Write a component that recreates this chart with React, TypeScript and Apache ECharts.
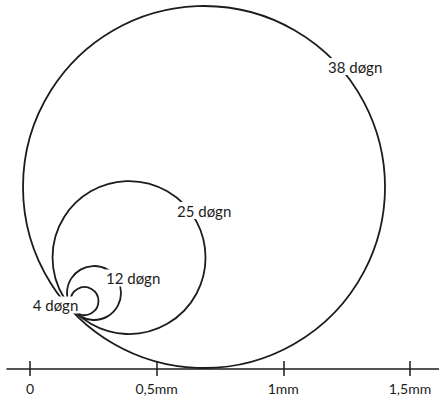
import React, { useEffect, useRef } from "react";
import * as echarts from "echarts";

// Circles (mm): day count, centre x, centre y (above baseline), radius
const days = [4, 12, 25, 38];
const centerX = [0.215, 0.2527, 0.391, 0.687];
const centerY = [0.268, 0.3, 0.44, 0.7185];
const radius = [0.0553, 0.1066, 0.302, 0.7146];

// Label anchors (mm)
const labelX = [0.1946, 0.2961, 0.5764, 1.1725];
const labelY = [0.2527, 0.3593, 0.6257, 1.194];
const labelAlign = ["right", "left", "left", "left"];

// Axis ticks
const tickValues = [0, 0.5, 1, 1.5];
const tickLabels = ["0", "0,5mm", "1mm", "1,5mm"];

const X_MIN = -0.0908;
const X_MAX = 1.6147;
const Y_MAX = 1.4568;

const INK = "#1c1c1c";
const FONT = "Lato, 'Noto Sans', sans-serif";

export default function App() {
  const ref = useRef<HTMLDivElement>(null);
  useEffect(() => {
    document.body.style.margin = "0";
    const chart = echarts.init(ref.current!, undefined, { renderer: "svg" });
    const circleData = days.map((d, i) => [centerX[i], centerY[i], radius[i], d]);
    const labelData = days.map((d, i) => [labelX[i], labelY[i], d, i]);
    chart.setOption({
      animation: false,
      backgroundColor: "#fff",
      grid: { left: 7, right: 0, top: 0, bottom: 29 },
      xAxis: [
        {
          type: "value",
          min: X_MIN,
          max: X_MAX,
          splitLine: { show: false },
          axisLine: { show: true, lineStyle: { color: INK, width: 1.5 } },
          axisTick: {
            show: true,
            inside: false,
            length: 7,
            customValues: tickValues,
            lineStyle: { color: INK, width: 1.5 },
          },
          axisLabel: {
            show: true,
            customValues: tickValues,
            margin: 12,
            color: INK,
            fontFamily: FONT,
            fontSize: 14,
            formatter: (v: number) => {
              const idx = tickValues.findIndex((t) => Math.abs(t - v) < 1e-9);
              return idx >= 0 ? tickLabels[idx] : "";
            },
          },
        },
        {
          type: "value",
          min: X_MIN,
          max: X_MAX,
          position: "bottom",
          splitLine: { show: false },
          axisLine: { show: false },
          axisTick: {
            show: true,
            inside: true,
            length: 8,
            customValues: tickValues,
            lineStyle: { color: INK, width: 1.5 },
          },
          axisLabel: { show: false },
        },
      ],
      yAxis: { type: "value", min: 0, max: Y_MAX, show: false },
      series: [
        {
          type: "custom",
          xAxisIndex: 0,
          yAxisIndex: 0,
          z: 2,
          data: circleData,
          renderItem: (params: any, api: any) => {
            const c = api.coord([api.value(0), api.value(1)]);
            const r = api.size([api.value(2), 0])[0];
            return {
              type: "circle",
              shape: { cx: c[0], cy: c[1], r },
              style: { fill: "none", stroke: INK, lineWidth: 1.8 },
            };
          },
        },
        {
          type: "custom",
          xAxisIndex: 0,
          yAxisIndex: 0,
          z: 5,
          data: labelData,
          renderItem: (params: any, api: any) => {
            const c = api.coord([api.value(0), api.value(1)]);
            const i = api.value(3);
            return {
              type: "text",
              x: c[0],
              y: c[1],
              style: {
                text: `${api.value(2)} døgn`,
                align: labelAlign[i],
                verticalAlign: "middle",
                fill: INK,
                font: `15px ${FONT}`,
                backgroundColor: "#fff",
                padding: [1, 1],
              },
            };
          },
        },
      ],
    });
    return () => chart.dispose();
  }, []);
  return <div ref={ref} style={{ width: 439, height: 398 }} />;
}
